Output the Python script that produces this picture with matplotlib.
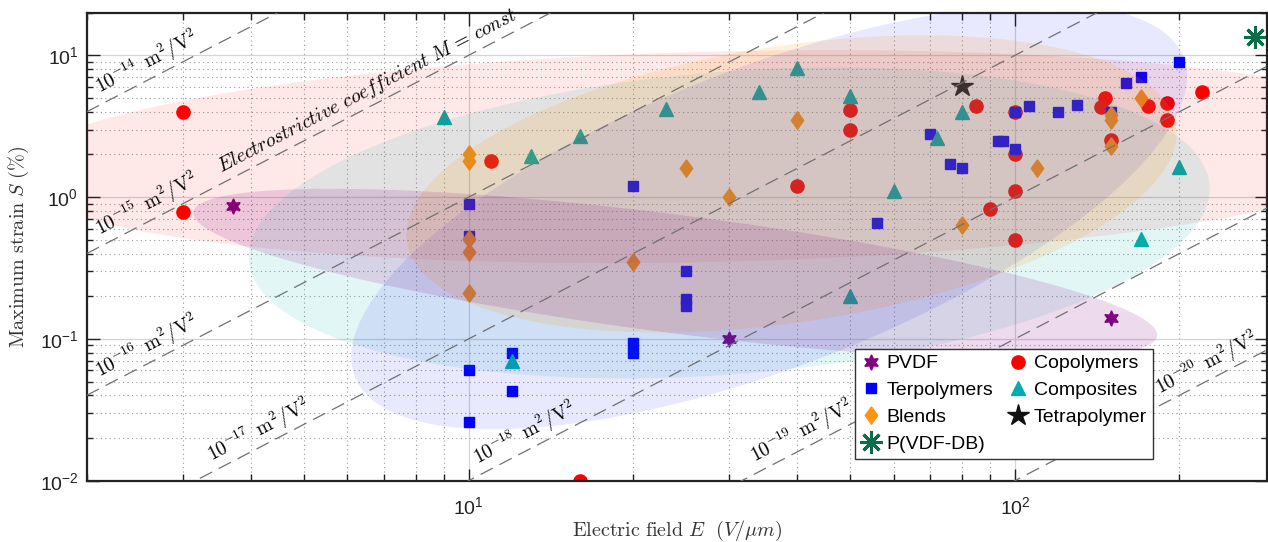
import numpy as np
import matplotlib
matplotlib.use("Agg")
import matplotlib.pyplot as plt
from matplotlib.ticker import LogLocator, NullFormatter

plt.rcParams['font.family'] = ['Liberation Sans', 'DejaVu Sans']

# ---------------- data (E in V/um, S in %) ----------------
pvdf_E = [3.7, 30, 150]
pvdf_S = [0.87, 0.10, 0.14]

copo_E = [3, 3, 11, 16, 40, 50, 50, 85, 100, 100, 100, 100, 90, 146, 144, 150, 175, 190, 190, 220]
copo_S = [4.0, 0.78, 1.8, 0.01, 1.2, 4.1, 3.0, 4.4, 4.0, 2.0, 1.1, 0.5, 0.82, 5.0, 4.3, 2.55, 4.4, 4.6, 3.5, 5.5]

ter_E = [10, 10, 20, 25, 25, 25, 20, 20, 10, 10, 12, 12, 56, 70, 76, 80, 93, 95, 100, 100,
         106, 120, 130, 150, 160, 170, 200]
ter_S = [0.9, 0.53, 1.2, 0.30, 0.19, 0.17, 0.093, 0.080, 0.06, 0.026, 0.08, 0.043, 0.66, 2.8,
         1.7, 1.6, 2.5, 2.5, 2.2, 4.0, 4.4, 4.0, 4.5, 4.0, 6.4, 7.0, 9.0]

comp_E = [9, 12, 13, 16, 23, 34, 40, 50, 50, 60, 72, 80, 170, 200]
comp_S = [3.7, 0.07, 1.95, 2.7, 4.2, 5.5, 8.2, 5.2, 0.2, 1.1, 2.6, 4.0, 0.51, 1.64]

blend_E = [10, 10, 10, 10, 10, 20, 25, 30, 40, 80, 110, 150, 150, 150, 170]
blend_S = [2.0, 1.8, 0.51, 0.41, 0.21, 0.35, 1.6, 1.0, 3.5, 0.64, 1.6, 3.8, 3.5, 2.3, 5.0]

tetra_E = [80]
tetra_S = [6.1]

db_E = [275]
db_S = [13.5]

# electrostrictive coefficient lines M (m^2/V^2)
M_exponents = [-14, -15, -16, -17, -18, -19, -20]
M_label_E = [2.15, 2.15, 2.15, 3.45, 10.6, 34.0, 188]

# group regions: centre (E, S), semi-axis vectors in decades (log10 E, log10 S)
regions = {
    'Copolymers':  dict(c=(28.7, 1.93), a=(1.2933, 0.1219), b=(-0.0047, 0.7418)),
    'Composites':  dict(c=(30.0, 0.658), a=(0.8793, 0.2674), b=(-0.0217, 1.0638)),
    'Terpolymers': dict(c=(35.5, 0.726), a=(0.7585, 1.1245), b=(-0.0984, 0.9897)),
    'Blends':      dict(c=(39.0, 1.24), a=(0.7038, 0.4110), b=(-0.0378, 0.9643)),
    'PVDF':        dict(c=(23.9, 0.287), a=(0.8821, -0.4365), b=(0.0137, 0.4136)),
}
region_style = {
    'Copolymers':  ('#ff0000', 0.09),
    'Composites':  ('#00b4b4', 0.11),
    'Terpolymers': ('#0000ff', 0.09),
    'Blends':      ('#ff9900', 0.14),
    'PVDF':        ('#800080', 0.14),
}

# ---------------- figure ----------------
fig = plt.figure(figsize=(12.68, 5.42), dpi=100)
ax = fig.add_axes([86.7 / 1268, 1 - 480.7 / 542, 1180.8 / 1268, 468.0 / 542])
ax.set_xscale('log')
ax.set_yscale('log')
ax.set_xlim(2, 290)
ax.set_ylim(0.01, 20)

diamond = [(0, 1), (0.72, 0), (0, -1), (-0.72, 0), (0, 1)]

h_pvdf, = ax.plot(pvdf_E, pvdf_S, ls='none', marker=(6, 1, 0), ms=11, color='#800080', zorder=2, label='PVDF')
h_copo, = ax.plot(copo_E, copo_S, ls='none', marker='o', ms=9.5, color='#ff0000', zorder=2, label='Copolymers')
h_ter, = ax.plot(ter_E, ter_S, ls='none', marker='s', ms=7.2, color='#0000ff', zorder=2, label='Terpolymers')
h_comp, = ax.plot(comp_E, comp_S, ls='none', marker='^', ms=10.5, color='#00acac', zorder=2, label='Composites')
h_blend, = ax.plot(blend_E, blend_S, ls='none', marker=diamond, ms=12.5, color='#ff9414', zorder=2, label='Blends')
h_tetra, = ax.plot(tetra_E, tetra_S, ls='none', marker='*', ms=16, color='#111111', zorder=2, label='Tetrapolymer')
h_db, = ax.plot(db_E, db_S, ls='none', marker=(8, 2, 0), ms=16, mew=2.2, color='#0b6e4a', zorder=2, label='P(VDF-DB)')

# shaded regions
t = np.linspace(0, 2 * np.pi, 400)
for name, r in regions.items():
    uc, vc = np.log10(r['c'][0]), np.log10(r['c'][1])
    u = uc + r['a'][0] * np.cos(t) + r['b'][0] * np.sin(t)
    v = vc + r['a'][1] * np.cos(t) + r['b'][1] * np.sin(t)
    col, al = region_style[name]
    ax.fill(10 ** u, 10 ** v, color=col, alpha=al, lw=0, zorder=3)

# constant-M lines
Eline = np.logspace(np.log10(2), np.log10(290), 50)
for m in M_exponents:
    Sline = 100 * (10.0 ** m) * (Eline * 1e6) ** 2
    ax.plot(Eline, Sline, color='#707070', lw=0.9, dashes=(11, 6), zorder=4)

# angle of lines in display
p1 = ax.transData.transform((10, 1))
p2 = ax.transData.transform((100, 100))
ang = np.degrees(np.arctan2(p2[1] - p1[1], p2[0] - p1[0]))
off = 7.0
dx, dy = -off * np.sin(np.radians(ang)), off * np.cos(np.radians(ang))
for m, E0 in zip(M_exponents, M_label_E):
    S0 = 100 * (10.0 ** m) * (E0 * 1e6) ** 2
    ax.annotate(r'$10^{%d}\ \,\mathrm{m}^2/\mathrm{V}^2$' % m, xy=(E0, S0), xytext=(dx, dy),
                textcoords='offset points', rotation=ang, rotation_mode='anchor',
                ha='left', va='baseline', fontsize=14, math_fontfamily='cm', zorder=5)
E0 = 3.6
S0 = 100 * 1e-15 * (E0 * 1e6) ** 2
ax.annotate(r'$Electrostrictive\ coefficient\ M\,=\,const$', xy=(E0, S0), xytext=(dx, dy),
            textcoords='offset points', rotation=ang, rotation_mode='anchor',
            ha='left', va='baseline', fontsize=14, math_fontfamily='cm', zorder=5)

# ticks and grid
ax.xaxis.set_major_locator(LogLocator(base=10, numticks=10))
ax.xaxis.set_minor_locator(LogLocator(base=10, subs=np.arange(2, 10), numticks=20))
ax.yaxis.set_major_locator(LogLocator(base=10, numticks=10))
ax.yaxis.set_minor_locator(LogLocator(base=10, subs=np.arange(2, 10), numticks=20))
ax.xaxis.set_minor_formatter(NullFormatter())
ax.yaxis.set_minor_formatter(NullFormatter())
ax.tick_params(which='both', direction='in', top=True, right=True, width=1.0, colors='#222222')
ax.tick_params(which='major', length=9, labelsize=14)
ax.tick_params(axis='x', which='major', pad=11)
ax.tick_params(axis='y', which='major', pad=6)
ax.tick_params(axis='x', which='minor', length=5)
ax.tick_params(axis='y', which='minor', length=4)
ax.set_axisbelow(True)
ax.grid(which='major', color='#d4d4d4', lw=0.9, ls='-', zorder=0)
ax.grid(which='minor', color='#9a9a9a', lw=0.8, ls=(0, (1, 3)), zorder=0)
for sp in ax.spines.values():
    sp.set_linewidth(1.6)
    sp.set_color('#222222')

ax.set_xlabel(r'$\mathrm{Electric\ field}\ E\ \ (V/\mu m)$', fontsize=14.5, math_fontfamily='cm', labelpad=1,
              color='#333333')
ax.set_ylabel(r'$\mathrm{Maximum\ strain}\ S\ (\%)$', fontsize=14.5, math_fontfamily='cm', labelpad=6,
              color='#333333')

handles = [h_pvdf, h_ter, h_blend, h_db, h_copo, h_comp, h_tetra]
leg = ax.legend(handles=handles, loc='lower left', bbox_to_anchor=(0.6507, 0.0464), borderaxespad=0,
                ncol=2, fontsize=14, frameon=True, fancybox=False, framealpha=1, edgecolor='#333333',
                handlelength=1.0, handletextpad=0.3, columnspacing=0.8, labelspacing=0.48,
                borderpad=0.3, numpoints=1)
leg.get_frame().set_linewidth(1.0)
leg.set_zorder(10)

fig.savefig('out.png', dpi=100)
